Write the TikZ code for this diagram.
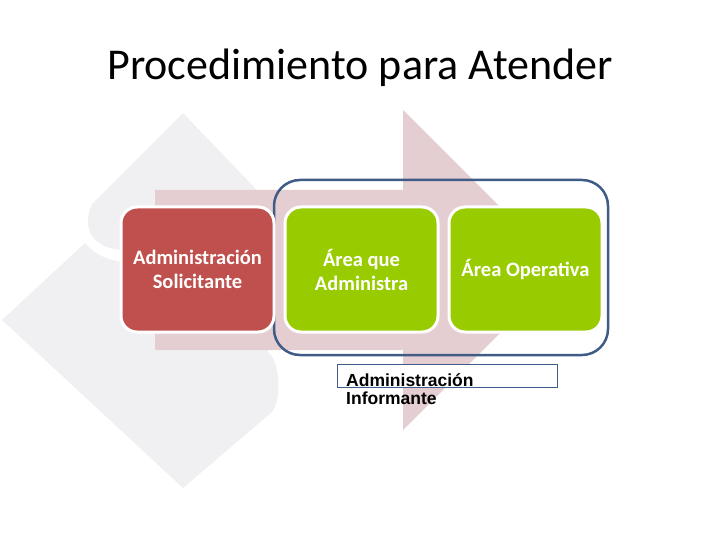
\documentclass[tikz,border=0pt]{standalone}
\usepackage{fontspec}
\setmainfont{Carlito}
\newfontfamily\arialfont{Liberation Sans}
\usetikzlibrary{positioning}

\definecolor{cajaroja}{HTML}{C0504D}
\definecolor{cajaverde}{HTML}{99CC00}
\definecolor{flecha}{HTML}{E5CED1}
\definecolor{marco}{HTML}{3F5C87}
\definecolor{marcatenue}{HTML}{F0F0F2}

\tikzset{
  etapa/.style={rectangle, rounded corners=16pt, draw=white, line width=3pt,
    minimum width=153pt, minimum height=125pt, align=center, text=white,
    font=\bfseries\fontsize{20.5}{24}\selectfont},
  grupo/.style={rectangle, rounded corners=26pt, draw=marco, line width=2.5pt,
    minimum width=334pt, minimum height=175pt},
  cuadrotexto/.style={rectangle, draw=marco, line width=0.8pt, fill=white,
    minimum width=220pt, minimum height=23pt, inner sep=0pt},
}

\begin{document}
\begin{tikzpicture}[x=1pt,y=-1pt]
    \useasboundingbox (0,0) rectangle (720,540);
    % logo de fondo
    \fill[marcatenue] (183,113) -- (300,235) -- (300,250) -- (125,250)
      .. controls (95,250) and (80,230) .. (92,204) -- cycle;
    \fill[marcatenue] (2,320) -- (85,243) .. controls (95,255) and (110,262) .. (130,262)
      -- (260,262) -- (268,352) .. controls (281,362) and (281,402) .. (272,412)
      -- (183,488) -- cycle;
    % flecha
    \fill[flecha] (155,190) -- (403,190) -- (403,110) -- (563,270) -- (403,430)
      -- (403,350) -- (155,350) -- cycle;

    \node[font=\fontsize{44}{52}\selectfont, anchor=base] (titulo) at (360,80) {Procedimiento para Atender};

    \node[grupo] (grupo) at (441,267.5) {};
    \node[etapa, fill=cajaroja] (solicitante) at (197.5,269.5) {Administración\\Solicitante};
    \node[etapa, fill=cajaverde, right=8pt of solicitante] (administra) {Área que\\Administra};
    \node[etapa, fill=cajaverde, right=8pt of administra] (operativa) {Área Operativa};

    \node[cuadrotexto] (informante) at (447,375.5) {};
    \node[anchor=base west, align=left, inner sep=0pt,
      font=\arialfont\bfseries\fontsize{17.5}{18}\selectfont] (informantetexto)
      at (346,404) {Administración\\Informante};
  \end{tikzpicture}
\end{document}
